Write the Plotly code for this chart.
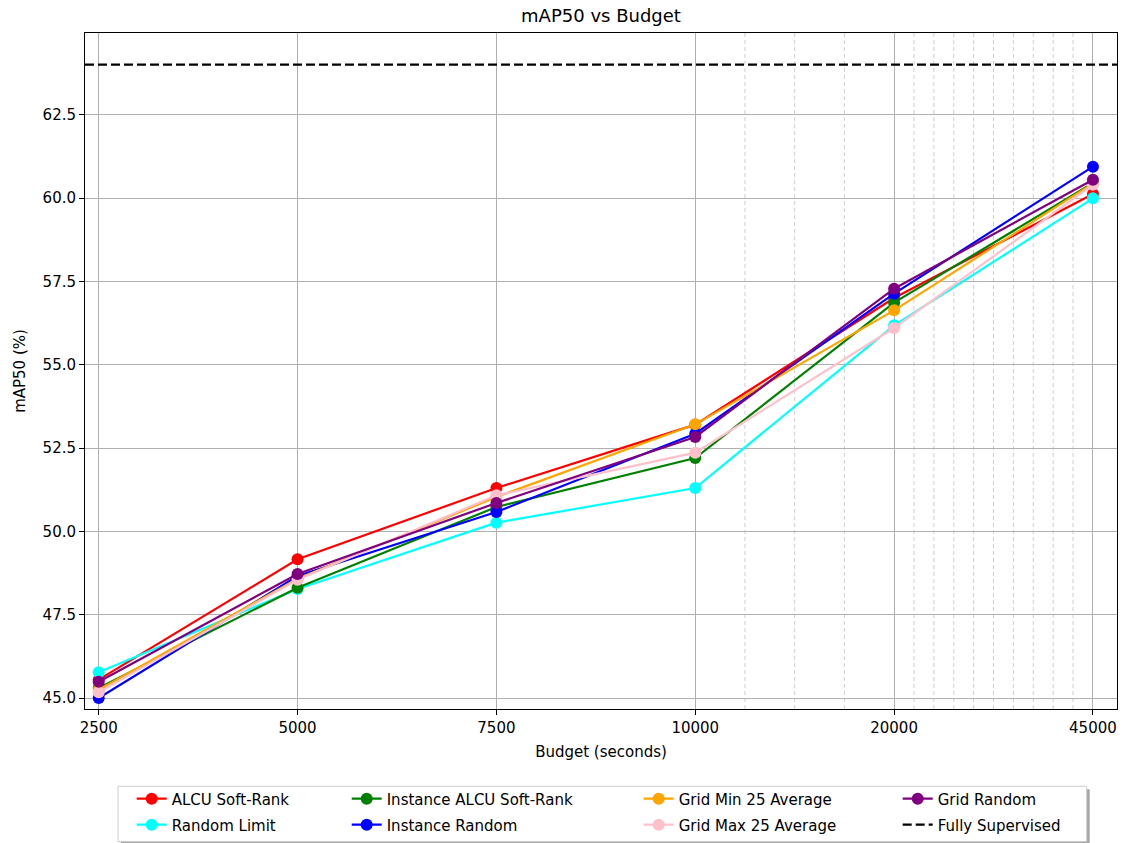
import numpy as np
import plotly.graph_objects as go

# ---- data ----
budgets = [2500, 5000, 7500, 10000, 20000, 45000]
alcu_soft_rank = [45.55, 49.16, 51.30, 53.20, 57.00, 60.12]
random_limit = [45.77, 48.27, 50.26, 51.30, 56.18, 59.99]
instance_alcu_soft_rank = [45.30, 48.31, 50.73, 52.20, 56.86, 60.45]
instance_random = [45.00, 48.66, 50.58, 52.93, 57.13, 60.94]
grid_min_25_avg = [45.25, 48.58, 51.03, 53.21, 56.63, 60.44]
grid_max_25_avg = [45.17, 48.55, 51.08, 52.36, 56.10, 60.40]
grid_random = [45.49, 48.72, 50.85, 52.83, 57.28, 60.55]
fully_supervised = 64.0
minor_budgets = [12500, 15000, 17500, 22500, 25000, 27500, 30000, 32500,
                 35000, 37500, 40000, 42500]

series = [
    ("ALCU Soft-Rank", alcu_soft_rank, "red", 1),
    ("Random Limit", random_limit, "cyan", 5),
    ("Instance ALCU Soft-Rank", instance_alcu_soft_rank, "green", 2),
    ("Instance Random", instance_random, "blue", 6),
    ("Grid Min 25 Average", grid_min_25_avg, "orange", 3),
    ("Grid Max 25 Average", grid_max_25_avg, "pink", 7),
    ("Grid Random", grid_random, "purple", 4),
]

# ---- geometry (pixels) ----
W, H = 1126, 843
L, R, T, B = 85.3, 1117.3, 32.7, 709.0
pw, ph = R - L, B - T

def px_x(p):
    return (p - L) / pw

def px_y(p):
    return (B - p) / ph

FONT = "DejaVu Sans"
idx = np.arange(len(budgets))

fig = go.Figure()

# legend slots: (column text x, row center y)
col_text_x = [174.0, 389.0, 681.0, 940.0]
row_y = [799.0, 825.0]
slot_of_rank = {1: (0, 0), 2: (1, 0), 3: (2, 0), 4: (3, 0),
                5: (0, 1), 6: (1, 1), 7: (2, 1), 8: (3, 1)}

legend_layouts = {}
for rank in range(1, 9):
    c, r = slot_of_rank[rank]
    key = "legend" if rank == 1 else f"legend{rank}"
    legend_layouts[key] = dict(
        x=px_x(col_text_x[c] - 42), xanchor="left",
        y=px_y(row_y[r]), yanchor="middle",
        bgcolor="rgba(0,0,0,0)", borderwidth=0,
        font=dict(family=FONT, size=15, color="#000"),
        orientation="v", tracegroupgap=0, visible=True,
    )

for name, vals, color, rank in series:
    key = "legend" if rank == 1 else f"legend{rank}"
    fig.add_trace(go.Scatter(
        x=idx, y=vals, mode="lines+markers", name=name,
        line=dict(color=color, width=2.2),
        marker=dict(color=color, size=12),
        legend=key, showlegend=True,
    ))

# minor dashed grid lines
minor_pos = np.interp(minor_budgets, budgets, idx)
for xp in minor_pos:
    fig.add_shape(type="line", xref="x", yref="y domain", x0=xp, x1=xp, y0=0, y1=1,
                  line=dict(color="#cfcfcf", width=1, dash="4px,3px"), layer="below")

# fully supervised reference line
fig.add_shape(type="line", xref="x domain", yref="y", x0=0, x1=1,
              y0=fully_supervised, y1=fully_supervised,
              line=dict(color="black", width=2.2, dash="9px,4px"),
              showlegend=True, name="Fully Supervised", legend="legend8")

# legend frame (shadow + box)
bx0, bx1, by0, by1 = 118.3, 1087.0, 786.3, 841.5
fig.add_shape(type="rect", xref="paper", yref="paper",
              x0=px_x(bx0 + 3), x1=px_x(bx1 + 3), y0=px_y(by1 + 3), y1=px_y(by0 + 3),
              fillcolor="rgba(0,0,0,0.35)", line=dict(width=0), layer="below")
fig.add_shape(type="rect", xref="paper", yref="paper",
              x0=px_x(bx0), x1=px_x(bx1), y0=px_y(by1), y1=px_y(by0),
              fillcolor="white", line=dict(color="#cccccc", width=1), layer="below")

fig.update_layout(
    width=W, height=H,
    margin=dict(l=L, r=W - R, t=T, b=H - B, pad=0, autoexpand=False),
    paper_bgcolor="white", plot_bgcolor="white",
    showlegend=True,
    font=dict(family=FONT, size=15, color="#000"),
    title=dict(text="mAP50 vs Budget", x=0.5, xref="paper", xanchor="center",
               y=1 - 16 / H, yref="container", yanchor="middle",
               font=dict(family=FONT, size=18, color="#000")),
    **legend_layouts,
)

fig.update_xaxes(
    range=[-0.069, 5.121], tickmode="array", tickvals=idx,
    ticktext=[str(b) for b in budgets],
    showgrid=True, gridcolor="#b0b0b0", gridwidth=1,
    showline=True, linecolor="black", linewidth=1, mirror=True,
    ticks="outside", ticklen=5, tickcolor="black", zeroline=False,
    title=dict(text="Budget (seconds)", standoff=10,
               font=dict(family=FONT, size=15, color="#000")),
    tickfont=dict(family=FONT, size=15, color="#000"),
)
fig.update_yaxes(
    range=[44.67, 64.95], tick0=45, dtick=2.5, tickformat=".1f",
    showgrid=True, gridcolor="#b0b0b0", gridwidth=1,
    showline=True, linecolor="black", linewidth=1, mirror=True,
    ticks="outside", ticklen=5, tickcolor="black", zeroline=False,
    title=dict(text="mAP50 (%)", standoff=13,
               font=dict(family=FONT, size=15, color="#000")),
    tickfont=dict(family=FONT, size=15, color="#000"),
)

fig.write_html("out.html")
